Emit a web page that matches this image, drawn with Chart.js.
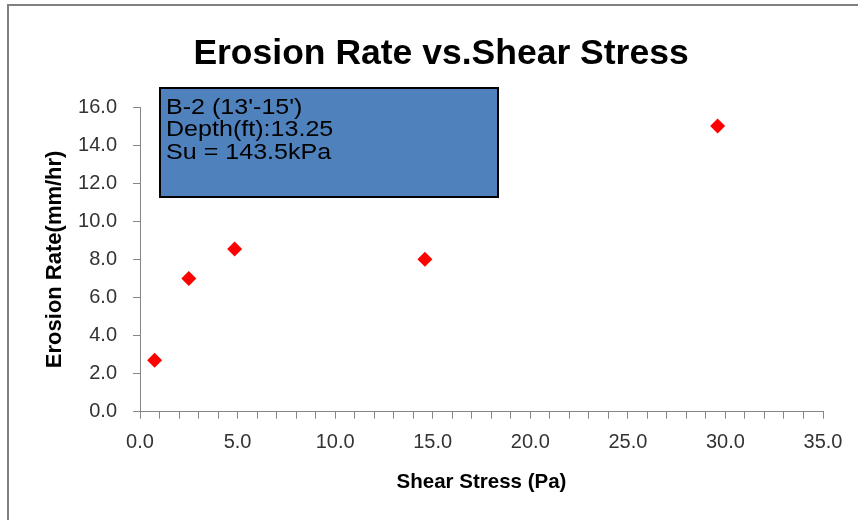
<!DOCTYPE html>
<html>
<head>
<meta charset="utf-8">
<script src="https://cdn.jsdelivr.net/npm/chart.js@4.4.1/dist/chart.umd.min.js"></script>
<style>
  html, body { margin: 0; padding: 0; background: #ffffff; }
  #wrap { width: 858px; height: 520px; position: relative; }
</style>
</head>
<body>
<div id="wrap"><canvas id="c" width="858" height="520"></canvas></div>
<script>
// ---- Data ----
const chartTitle = "Erosion Rate vs.Shear Stress";
const xAxisTitle = "Shear Stress (Pa)";
const yAxisTitle = "Erosion Rate(mm/hr)";
const shearStress = [0.75, 2.5, 4.85, 14.6, 29.6];
const erosionRate = [2.7, 7.0, 8.55, 8.0, 15.0];
const xTickStep = 1;      // minor tick every 1.0, labelled every 5.0
const xLabelEvery = 5;
const xMin = 0, xMax = 35;
const yMin = 0, yMax = 16, yTickStep = 2;
const boxLines = ["B-2 (13'-15')", "Depth(ft):13.25", "Su = 143.5kPa"];

const points = shearStress.map((x, i) => ({ x: x, y: erosionRate[i] }));

const AXIS_COLOR = '#868686';
const TICK_FONT = { family: "'Liberation Sans', Arial, sans-serif", size: 20 };

const decorPlugin = {
  id: 'decor',
  beforeDraw(chart) {
    const ctx = chart.ctx;
    ctx.save();
    ctx.fillStyle = '#ffffff';
    ctx.fillRect(0, 0, chart.width, chart.height);
    // outer frame (left & top edges visible)
    ctx.strokeStyle = '#808080';
    ctx.lineWidth = 2;
    ctx.strokeRect(8, 5, chart.width + 20, chart.height + 20);
    // title
    ctx.fillStyle = '#000000';
    ctx.font = "bold 35.5px 'Liberation Sans', Arial, sans-serif";
    ctx.textAlign = 'center';
    ctx.textBaseline = 'alphabetic';
    ctx.fillText(chartTitle, 441, 64);
    ctx.restore();
  },
  afterDatasetsDraw(chart) {
    const ctx = chart.ctx;
    ctx.save();
    const bx = 160, by = 88, bw = 338, bh = 109;
    ctx.fillStyle = '#4F81BD';
    ctx.fillRect(bx, by, bw, bh);
    ctx.strokeStyle = '#000000';
    ctx.lineWidth = 2;
    ctx.strokeRect(bx, by, bw, bh);
    ctx.fillStyle = '#000000';
    ctx.font = "22px 'Liberation Sans', Arial, sans-serif";
    ctx.textAlign = 'left';
    ctx.textBaseline = 'middle';
    ctx.translate(166, 0);
    ctx.scale(1.14, 1);
    boxLines.forEach((t, i) => ctx.fillText(t, 0, 107.5 + i * 22.5));
    ctx.restore();
  }
};

new Chart(document.getElementById('c'), {
  type: 'scatter',
  data: {
    datasets: [{
      data: points,
      pointStyle: 'rectRot',
      pointRadius: 7.5,
      pointHoverRadius: 7.5,
      backgroundColor: '#FF0000',
      borderColor: '#FF0000',
      borderWidth: 0
    }]
  },
  options: {
    responsive: false,
    animation: false,
    events: [],
    layout: { padding: { left: 8, right: 35, top: 107, bottom: 0 } },
    plugins: {
      legend: { display: false },
      title: { display: false },
      tooltip: { enabled: false }
    },
    scales: {
      x: {
        type: 'linear',
        min: xMin, max: xMax,
        afterFit(scale) { scale.height = 108.3; },
        border: { display: true, color: AXIS_COLOR, width: 1 },
        grid: { drawOnChartArea: false, drawTicks: true, tickLength: 7, color: AXIS_COLOR },
        ticks: {
          stepSize: xTickStep,
          autoSkip: false,
          maxRotation: 0,
          padding: 12,
          color: '#333333',
          font: TICK_FONT,
          callback: (v) => (Math.round(v) % xLabelEvery === 0 ? Number(v).toFixed(1) : '')
        },
        title: {
          display: true,
          text: xAxisTitle,
          color: '#000000',
          font: { family: "'Liberation Sans', Arial, sans-serif", size: 20.5, weight: 'bold' },
          padding: { top: 0, bottom: 25.7 }
        }
      },
      y: {
        type: 'linear',
        min: yMin, max: yMax,
        afterFit(scale) { scale.width = 132; },
        border: { display: true, color: AXIS_COLOR, width: 1 },
        grid: { drawOnChartArea: false, drawTicks: true, tickLength: 7, color: AXIS_COLOR },
        ticks: {
          stepSize: yTickStep,
          padding: 16,
          color: '#333333',
          font: TICK_FONT,
          callback: (v) => Number(v).toFixed(1)
        },
        title: {
          display: true,
          text: yAxisTitle,
          color: '#000000',
          font: { family: "'Liberation Sans', Arial, sans-serif", size: 22, weight: 'bold' },
          padding: { top: 33.8, bottom: 0 }
        }
      }
    }
  },
  plugins: [decorPlugin]
});
</script>
</body>
</html>
